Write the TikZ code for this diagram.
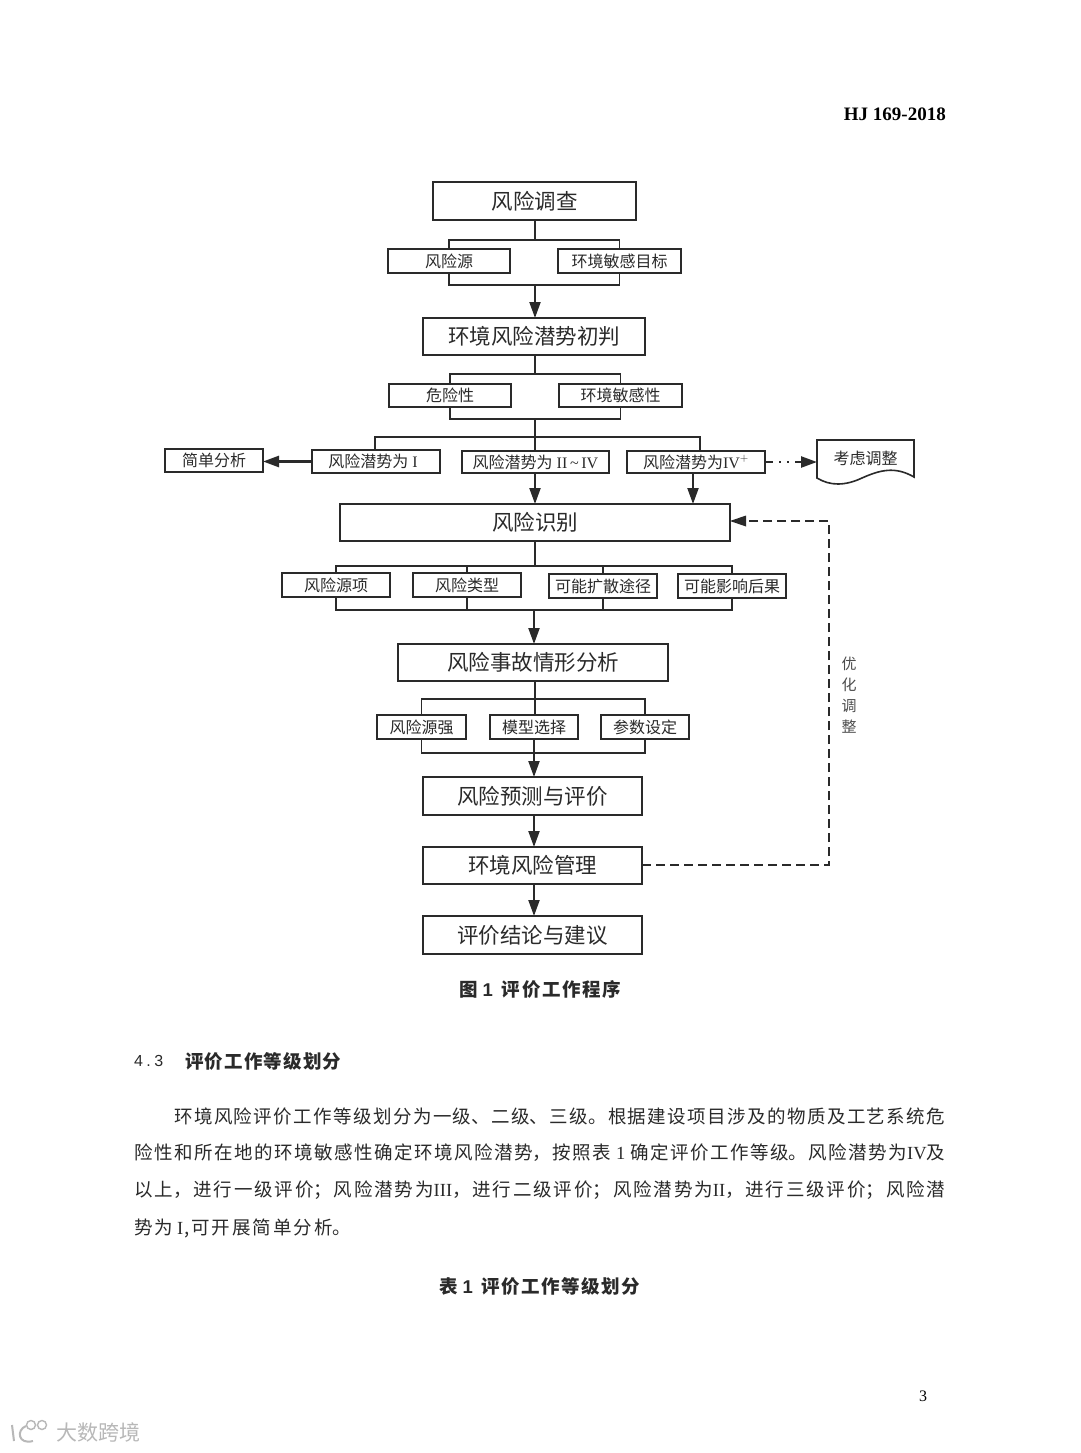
\documentclass[tikz,border=0pt]{standalone}
\usepackage{fontspec}
\usetikzlibrary{arrows.meta,calc}
\setmainfont{Noto Sans CJK SC}
\newfontfamily\lat{Liberation Serif}
\newfontfamily\sanslat{Liberation Sans}
\XeTeXlinebreaklocale "zh"
\XeTeXlinebreakskip=0pt plus 4pt
\definecolor{ink}{HTML}{2A2A2A}
\tikzset{
  x=1pt,y=-1pt,
  bx/.style={draw=ink,line width=1.9pt,fill=white,inner sep=0pt,text=ink,align=center},
  link/.style={draw=ink,line width=1.8pt},
  flow/.style={draw=ink,line width=2.1pt,-{Triangle[length=16pt,width=11pt]}},
  dashflow/.style={draw=ink,line width=2pt,dash pattern=on 9pt off 5pt},
  lab/.style={inner sep=0pt,text=ink},
  para/.style={inner sep=0pt,anchor=west,text=ink},
  head/.style={inner sep=0pt,text=ink,font=\fontsize{18.5}{18.5}\selectfont\bfseries},
}
% name, x1, y1, x2, y2, size, text
\newcommand{\boxat}[7]{%
  \pgfmathsetmacro{\cxx}{(#2+#4)/2}\pgfmathsetmacro{\cyy}{(#3+#5)/2}%
  \pgfmathsetmacro{\wdd}{#4-#2}\pgfmathsetmacro{\htt}{#5-#3}%
  \node[bx,minimum width=\wdd pt,minimum height=\htt pt,outer sep=0pt,
        font=\fontsize{#6}{#6}\selectfont] (#1) at (\cxx,\cyy) {#7};}
\newcommand{\fitline}[2]{\parbox{#1pt}{\hbadness=10000\hfuzz=20pt\parfillskip=0pt\parindent=0pt\leavevmode #2}}
\begin{document}
\begin{tikzpicture}
\useasboundingbox (0,0) rectangle (1080,1453);
\fill[white] (0,0) rectangle (1080,1453);

% page furniture
\node[inner sep=0pt,anchor=east,font=\lat\fontsize{19}{19}\selectfont\bfseries] (hdr) at (946,114) {HJ 169-2018};
\node[inner sep=0pt,font=\lat\fontsize{16}{16}\selectfont] (pg) at (923,1396) {3};

% boxes
\boxat{survey}{433}{182}{636}{220}{21.5}{风险调查}
\boxat{src}{388}{249}{510}{273}{16}{风险源}
\boxat{tgt}{558}{249}{681}{273}{16}{环境敏感目标}
\boxat{init}{423}{318}{645}{355}{21.5}{环境风险潜势初判}
\boxat{haz}{389}{384}{511}{407}{16}{危险性}
\boxat{sens}{559}{384}{682}{407}{16}{环境敏感性}
\boxat{simple}{165}{449}{263}{472}{16}{简单分析}
\boxat{p1}{312}{450}{440}{473}{16}{\hspace{-6pt}风险潜势为{\lat\ I}}
\boxat{p2}{462}{451}{609}{473}{16}{风险潜势为{\lat\ II\,\textasciitilde\,IV}}
\boxat{p3}{627}{451}{765}{473}{16}{风险潜势为{\lat IV$^{+}$}}
\boxat{ident}{340}{504}{730}{541}{21.5}{风险识别}
\boxat{r1}{282}{573}{390}{597}{16}{风险源项}
\boxat{r2}{413}{573}{521}{597}{16}{风险类型}
\boxat{r3}{549}{574}{657}{598}{16}{可能扩散途径}
\boxat{r4}{678}{574}{786}{598}{16}{可能影响后果}
\boxat{acc}{398}{644}{668}{681}{21.5}{风险事故情形分析}
\boxat{s1}{377}{715}{466}{739}{16}{风险源强}
\boxat{s2}{490}{715}{578}{739}{16}{模型选择}
\boxat{s3}{601}{715}{689}{739}{16}{参数设定}
\boxat{pred}{423}{777}{642}{815}{21.5}{风险预测与评价}
\boxat{mgmt}{423}{847}{642}{884}{21.5}{环境风险管理}
\boxat{concl}{423}{916}{642}{954}{21.5}{评价结论与建议}

% document shape
\node[inner sep=0pt,minimum width=97pt,minimum height=38pt,outer sep=0pt,text=ink,font=\fontsize{16}{16}\selectfont,anchor=north west] (doc) at (817,440) {\raisebox{3pt}{考虑调整}};
\draw[draw=ink,line width=1.6pt] (doc.north west) -- (doc.north east) -- (914,477)
  .. controls (895,466) and (880,470) .. (862,478)
  .. controls (845,486) and (830,486) .. (817,478) -- cycle;

% junctions
\coordinate (b1) at (535,240);
\coordinate (b2) at (535,285);
\coordinate (b3) at (535,374);
\coordinate (b4) at (535,419);
\coordinate (b5) at (535,437);
\coordinate (b6) at (535,566);
\coordinate (b7) at (534,610);
\coordinate (b8) at (535,699);
\coordinate (b9) at (534,753);
\coordinate (dk) at (829,865);
\coordinate (du) at (829,521);

% connectors
\draw[link] (survey.south -| b1) -- (b1);
\draw[link] (src.north) |- (b1) -| (tgt.north);
\draw[link] (src.south) |- (b2) -| (tgt.south);
\draw[flow] (b2) -- (b2 |- init.north);

\draw[link] (init.south -| b3) -- (b3);
\draw[link] (haz.north) |- (b3) -| (sens.north);
\draw[link] (haz.south) |- (b4) -| (sens.south);
\draw[link] (b4) -- (b5) -- (b5 |- p2.north);
\draw[link] (p1.north -| 375,0) |- (b5) -| (p3.north -| 700,0);

\draw[flow,line width=2.6pt] (p1.west) -- (simple.east |- p1.west);
\draw[flow] (p2.south -| b5) -- (b5 |- ident.north);
\draw[flow] (p3.south -| 693,0) -- (ident.north -| 693,0);
\draw[draw=ink,line width=2.4pt,dash pattern=on 8pt off 6pt on 2pt off 6pt on 2pt off 6pt] (p3.east) -- ($(p3.east)!0.6!(doc.west |- p3.east)$);
\draw[flow,line width=2.4pt] ($(p3.east)!0.6!(doc.west |- p3.east)$) -- (doc.west |- p3.east);

\draw[link] (ident.south -| b6) -- (b6);
\draw[link] (r1.north) |- (b6) -| (r4.north);
\draw[link] (r2.north) -- (r2.north |- b6);
\draw[link] (r3.north) -- (r3.north |- b6);
\draw[link] (r1.south) |- (b7) -| (r4.south);
\draw[link] (r2.south) -- (r2.south |- b7);
\draw[link] (r3.south) -- (r3.south |- b7);
\draw[flow] (b7) -- (b7 |- acc.north);

\draw[link] (acc.south -| b8) -- (b8);
\draw[link] (s1.north) |- (b8) -| (s3.north);
\draw[link] (b8) -- (s2.north -| b8);
\draw[link] (s1.south) |- (b9) -| (s3.south);
\draw[link] (s2.south -| b9) -- (b9);
\draw[flow] (b9) -- (b9 |- pred.north);

\draw[flow] (pred.south -| b9) -- (b9 |- mgmt.north);
\draw[flow] (mgmt.south -| b9) -- (b9 |- concl.north);

\draw[dashflow] (mgmt.east |- dk) -- (dk) -- (du) -- (ident.east |- du);
\fill[ink] (ident.east |- du) -- ++(16,-5.5) -- ++(0,11) -- cycle;

\node[lab,font=\fontsize{15}{21}\selectfont,align=center,text=black!70] (opt) at (849,695) {优\\化\\调\\整};

% caption and body
\node[head,anchor=west] (cap) at (459,989) {\fitline{162}{图\kern5pt{\sanslat 1}\kern9pt 评价工作程序}};
\node[inner sep=0pt,anchor=west,text=ink,font=\sanslat\fontsize{16}{16}\selectfont] (sec) at (134,1061) {\makebox[29pt][s]{4\hfill.\hfill 3}};
\node[head,anchor=west] (sect) at (185,1061) {\fitline{156}{评价工作等级划分}};

\newcommand{\pline}[5]{\node[para,font=\fontsize{18.5}{18.5}\selectfont] (#1) at (#2,#3) {\fitline{#4}{#5}};}
\pline{l1}{174}{1116}{771}{环境风险评价工作等级划分为一级、二级、三级。根据建设项目涉及的物质及工艺系统危}
\pline{l2}{134}{1153}{811}{险性和所在地的环境敏感性确定环境风险潜势，按照表\kern5pt{\lat 1}\kern5pt 确定评价工作等级。风险潜势为{\lat IV}及}
\pline{l3}{134}{1190}{811}{以上，进行一级评价；风险潜势为{\lat III}，进行二级评价；风险潜势为{\lat II}，进行三级评价；风险潜}
\pline{l4}{134}{1228}{217}{势为\kern4pt{\lat I}\kern1pt,\kern2pt 可开展简单分析。}
\node[head,anchor=west] (tab) at (439,1286) {\fitline{201}{表\kern5pt{\sanslat 1}\kern9pt 评价工作等级划分}};

% watermark
\node[inner sep=0pt,anchor=west,text=black!28,font=\fontsize{21}{21}\selectfont] (wm) at (56,1432) {大数跨境};
\draw[black!28,line width=1.4pt] (31,1425) circle (4.5pt) (42,1425) circle (4.5pt);
\draw[black!28,line width=2pt] (12,1425) -- (14,1441);
\draw[black!28,line width=2pt] (26,1426) .. controls (16,1430) and (18,1445) .. (33,1441);
\end{tikzpicture}
\end{document}
